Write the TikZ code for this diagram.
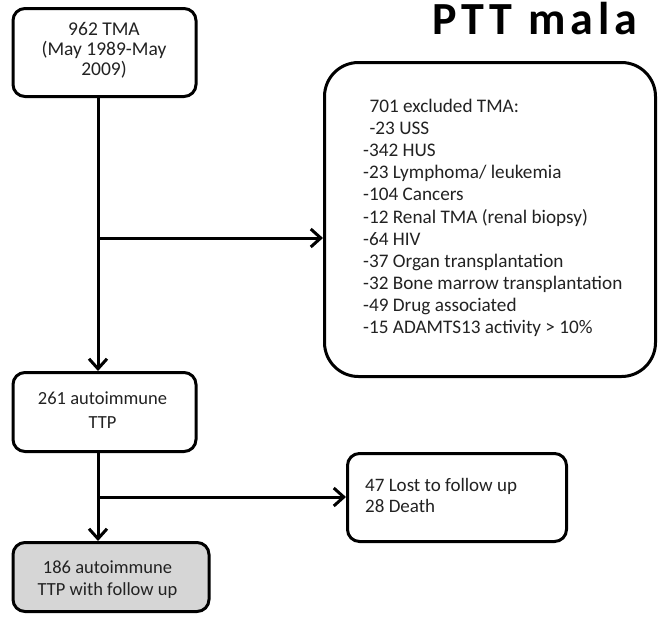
\documentclass[tikz,border=0pt]{standalone}
\usepackage{fontspec}
\setmainfont{Carlito}
\usetikzlibrary{arrows.meta}
\definecolor{txt}{HTML}{222222}
\definecolor{graybox}{HTML}{D6D6D6}
\tikzset{
  x=1pt, y=-1pt,
  box/.style={draw=black, line width=3pt, rounded corners=12pt, fill=white, inner sep=0pt},
  bigbox/.style={box, rounded corners=34pt},
  boxtext/.style={text=txt, align=center, inner sep=0pt},
  listtext/.style={text=txt, align=left, inner sep=0pt, anchor=north west},
  conn/.style={line width=3pt, draw=black},
  arr/.style={conn, -{Straight Barb[length=10pt, width=18pt, line width=3pt]}},
}
\begin{document}
\begin{tikzpicture}
\useasboundingbox (0,0) rectangle (658,616);
% title
\node[anchor=base west, inner sep=0pt, font=\fontsize{46}{46}\bfseries\addfontfeature{LetterSpace=11}\selectfont] (title) at (432,34) {PTT mala};
% boxes
\node[box, minimum width=183pt, minimum height=88pt] (b1) at (104.5,52.5) {};
\node[boxtext, font=\fontsize{19.5}{20}\selectfont] (t1) at (104,50) {962 TMA\\(May 1989-May\\2009)};
\node[bigbox, minimum width=331pt, minimum height=314pt] (b2) at (490,219.5) {};
\node[listtext, font=\fontsize{19.2}{22.1}\selectfont] (t2) at (363,99) {\,\,701 excluded TMA:\\\,\,-23 USS\\-342 HUS\\-23 Lymphoma/ leukemia\\-104 Cancers\\-12 Renal TMA (renal biopsy)\\-64 HIV\\-37 Organ transplantation\\-32 Bone marrow transplantation\\-49 Drug associated\\-15 ADAMTS13 activity > 10\%};
\node[box, minimum width=183pt, minimum height=79pt] (b3) at (104.5,412) {};
\node[boxtext, font=\fontsize{18.5}{24}\selectfont] (t3) at (102.5,410) {261 autoimmune\\TTP};
\node[box, fill=graybox, minimum width=196pt, minimum height=69pt] (b4) at (111,577) {};
\node[boxtext, font=\fontsize{18.5}{22}\selectfont] (t4) at (107.5,580) {186 autoimmune\\TTP with follow up};
\node[box, minimum width=219pt, minimum height=88pt] (b5) at (457,497.5) {};
\node[listtext, font=\fontsize{19}{21.5}\selectfont] (t5) at (365,478) {47 Lost to follow up\\28 Death};
% connectors
\coordinate (c1) at (98,0);
\coordinate (j1) at (98,238);
\coordinate (j2) at (98,497);
\draw[arr] (b1.south -| c1) -- (b3.north -| c1);
\draw[arr] (j1) -- (j1 -| b2.west);
\draw[arr] (b3.south -| c1) -- (b4.north -| c1);
\draw[arr] (j2) -- (j2 -| b5.west);
\end{tikzpicture}
\end{document}
